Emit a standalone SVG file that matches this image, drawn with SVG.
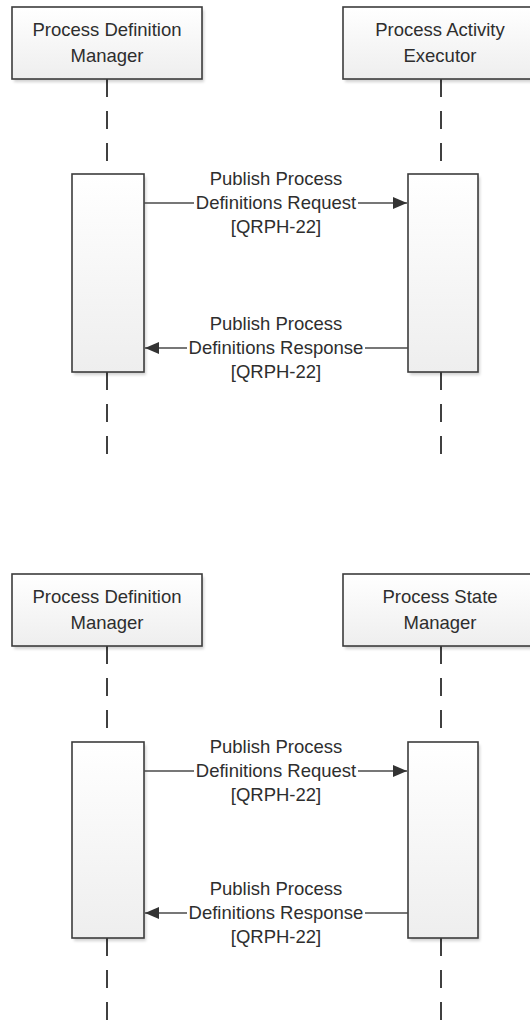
<svg xmlns="http://www.w3.org/2000/svg" width="530" height="1021" viewBox="0 0 530 1021">
<style>
.box{stroke:#3c3c3c;stroke-width:1.6;fill:url(#g)}
.shadow{fill:#000;opacity:0.18;filter:url(#blur)}
.life{stroke:#404040;stroke-width:2;stroke-dasharray:18 14;fill:none}
.msg{stroke:#4a4a4a;stroke-width:1.5;fill:none}
text{font-family:"Liberation Sans",Arial,sans-serif;font-size:18.5px;fill:#2e2e2e;text-anchor:middle}
.bg{fill:#fff}
</style>
<defs>
<linearGradient id="g" x1="0" y1="0" x2="0" y2="1">
<stop offset="0" stop-color="#ffffff"/>
<stop offset="1" stop-color="#eeeeee"/>
</linearGradient>
<filter id="blur" x="-20%" y="-20%" width="140%" height="140%"><feGaussianBlur stdDeviation="1.5"/></filter>
<marker id="ah" markerWidth="14" markerHeight="12" refX="14" refY="6" orient="auto" markerUnits="userSpaceOnUse">
<path d="M0,0 L14,6 L0,12 Z" fill="#333"/>
</marker>
</defs>
<rect width="530" height="1021" fill="#fff"/>

<g id="lifelines">
<line class="life" x1="107" y1="79" x2="107" y2="174"/>
<line class="life" x1="107" y1="372" x2="107" y2="456"/>
<line class="life" x1="441" y1="79" x2="441" y2="174"/>
<line class="life" x1="441" y1="372" x2="441" y2="456"/>
<line class="life" x1="107" y1="646" x2="107" y2="742"/>
<line class="life" x1="107" y1="938" x2="107" y2="1021"/>
<line class="life" x1="441" y1="646" x2="441" y2="742"/>
<line class="life" x1="441" y1="938" x2="441" y2="1021"/>
</g>

<g id="pdm1">
<rect class="shadow" x="14" y="10" width="190" height="72"/>
<rect class="box" x="12" y="7" width="190" height="72"/>
<text x="107" y="36">Process Definition</text>
<text x="107" y="62">Manager</text>
</g>
<g id="pae">
<rect class="shadow" x="345" y="10" width="190" height="72"/>
<rect class="box" x="343" y="7" width="190" height="72"/>
<text x="440" y="36">Process Activity</text>
<text x="440" y="62">Executor</text>
</g>
<g id="act1l">
<rect class="shadow" x="74" y="177" width="72" height="198"/>
<rect class="box" x="72" y="174" width="72" height="198"/>
</g>
<g id="act1r">
<rect class="shadow" x="410" y="177" width="70" height="198"/>
<rect class="box" x="408" y="174" width="70" height="198"/>
</g>

<g id="pdm2">
<rect class="shadow" x="14" y="577" width="190" height="72"/>
<rect class="box" x="12" y="574" width="190" height="72"/>
<text x="107" y="603">Process Definition</text>
<text x="107" y="629">Manager</text>
</g>
<g id="psm">
<rect class="shadow" x="345" y="577" width="190" height="72"/>
<rect class="box" x="343" y="574" width="190" height="72"/>
<text x="440" y="603">Process State</text>
<text x="440" y="629">Manager</text>
</g>
<g id="act2l">
<rect class="shadow" x="74" y="745" width="72" height="196"/>
<rect class="box" x="72" y="742" width="72" height="196"/>
</g>
<g id="act2r">
<rect class="shadow" x="410" y="745" width="70" height="196"/>
<rect class="box" x="408" y="742" width="70" height="196"/>
</g>

<g id="connectors">
<line class="msg" x1="144" y1="203" x2="407" y2="203" marker-end="url(#ah)"/>
<line class="msg" x1="408" y1="348" x2="145" y2="348" marker-end="url(#ah)"/>
<line class="msg" x1="144" y1="771" x2="407" y2="771" marker-end="url(#ah)"/>
<line class="msg" x1="408" y1="913" x2="145" y2="913" marker-end="url(#ah)"/>
</g>

<g id="labels">
<rect class="bg" x="194" y="194" width="164" height="18"/>
<text x="276" y="185">Publish Process</text>
<text x="276" y="209">Definitions Request</text>
<text x="276" y="233">[QRPH-22]</text>
<rect class="bg" x="187" y="339" width="178" height="18"/>
<text x="276" y="330">Publish Process</text>
<text x="276" y="354">Definitions Response</text>
<text x="276" y="378">[QRPH-22]</text>
<rect class="bg" x="194" y="762" width="164" height="18"/>
<text x="276" y="753">Publish Process</text>
<text x="276" y="777">Definitions Request</text>
<text x="276" y="801">[QRPH-22]</text>
<rect class="bg" x="187" y="904" width="178" height="18"/>
<text x="276" y="895">Publish Process</text>
<text x="276" y="919">Definitions Response</text>
<text x="276" y="943">[QRPH-22]</text>
</g>
</svg>
